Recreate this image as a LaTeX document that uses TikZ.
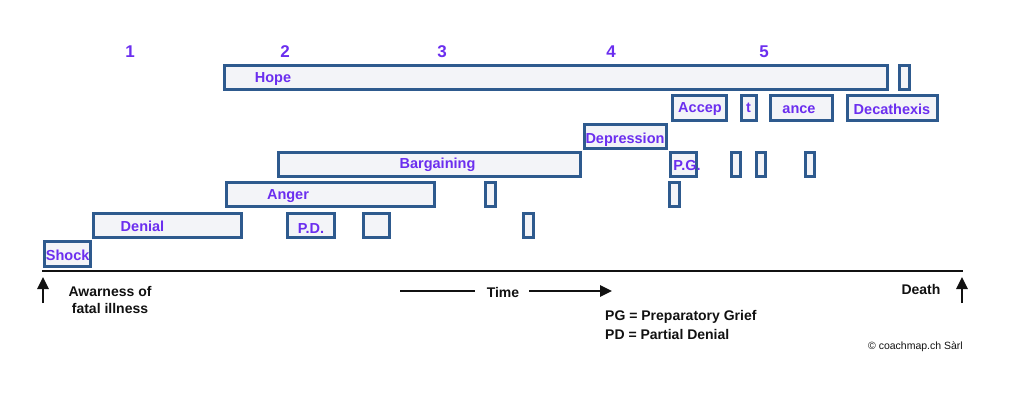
\documentclass[tikz,border=0pt]{standalone}
\usepackage{fontspec}
\setmainfont{Liberation Sans}
\usetikzlibrary{arrows.meta}
\definecolor{boxc}{HTML}{2E5A8E}
\definecolor{fillc}{HTML}{F3F4F8}
\definecolor{purp}{HTML}{6B2EEF}
\definecolor{ink}{HTML}{111111}
\tikzset{
  box/.style={draw=boxc,fill=fillc,line width=3pt,inner sep=0pt},
  lbl/.style={text=purp,font=\fontsize{14.5}{16}\selectfont\bfseries,inner sep=0pt,yshift=-1.5pt},
  num/.style={text=purp,font=\fontsize{17}{19}\selectfont\bfseries,inner sep=0pt},
  blk/.style={text=ink,font=\fontsize{14}{17}\selectfont\bfseries,inner sep=0pt},
  axis/.style={line width=2.6pt,ink},
  arr/.style={line width=2.6pt,ink,-{Triangle[length=12pt,width=11pt]}}
}
\newcommand{\bx}[5]{\node[box,minimum width={(#4-#2-3)*1pt},minimum height={(#5-#3-3)*1pt}] (#1) at ({(#2+#4)/2},{(#3+#5)/2}) {};}
\begin{document}
\begin{tikzpicture}[x=1pt,y=-1pt]
\useasboundingbox (0,0) rectangle (1010,393);
% numbers
\node[num] (n1) at (130,52) {1};
\node[num] (n2) at (285,52) {2};
\node[num] (n3) at (442,52) {3};
\node[num] (n4) at (611,52) {4};
\node[num] (n5) at (764,52) {5};
% boxes
\bx{hope}{223}{64}{889}{91}
\bx{h2}{898}{64}{911}{91}
\bx{accep}{671}{94}{728}{122}
\bx{t}{740}{94}{758}{122}
\bx{ance}{769}{94}{834}{122}
\bx{deca}{846}{94}{939}{122}
\bx{depr}{583}{123}{668}{150}
\bx{barg}{277}{151}{582}{178}
\bx{pg}{669}{151}{698}{178}
\bx{pg1}{730}{151}{742}{178}
\bx{pg2}{755}{151}{767}{178}
\bx{pg3}{804}{151}{816}{178}
\bx{anger}{225}{181}{436}{208}
\bx{a1}{484}{181}{497}{208}
\bx{a2}{668}{181}{681}{208}
\bx{denial}{92}{212}{243}{239}
\bx{pd}{286}{212}{336}{239}
\bx{pd2}{362}{212}{391}{239}
\bx{pd3}{522}{212}{535}{239}
\bx{shock}{43}{240}{92}{268}
% labels
\node[lbl] (lhope) at (273,78) {Hope};
\node[lbl] (lacc) at (700,108) {Accep};
\node[lbl] (lt) at (748.5,106) {t};
\node[lbl] (lance) at (799,108) {ance};
\node[lbl] (ldeca) at (892,108) {Decathexis};
\node[lbl] (ldepr) at (625,138) {Depression};
\node[lbl] (lbarg) at (437.5,163) {Bargaining};
\node[lbl] (lpg) at (687,164) {P.G.};
\node[lbl] (lang) at (288,195) {Anger};
\node[lbl] (lden) at (142.5,225) {Denial};
\node[lbl] (lpd) at (311,227) {P.D.};
\node[lbl] (lsh) at (67.7,254) {Shock};
% axis
\coordinate (ax0) at (42,271);
\coordinate (ax1) at (963,271);
\draw[axis] (ax0) -- (ax1);
\coordinate (la0) at (43,303);
\coordinate (la1) at (43,277);
\draw[arr] (la0) -- (la1);
\coordinate (ra0) at (962,303);
\coordinate (ra1) at (962,277);
\draw[arr] (ra0) -- (ra1);
\node[blk,align=center] (aware) at (110,299.5) {Awarness of\\fatal illness};
\node[blk] (time) at (503,292) {Time};
\coordinate (t0) at (400,291);
\coordinate (t0e) at (475,291);
\coordinate (t1s) at (529,291);
\coordinate (t1) at (612,291);
\draw[axis] (t0) -- (t0e);
\draw[arr] (t1s) -- (t1);
\node[blk] (death) at (921,289) {Death};
\node[blk,anchor=west] (pgd) at (605,317) {PG = Preparatory Grief};
\node[blk,anchor=west] (pdd) at (605,334) {PD = Partial Denial};
\node[text=ink,font=\fontsize{10.5}{12}\selectfont,anchor=east,inner sep=0pt] (copy) at (963,347) {© coachmap.ch Sàrl};
\end{tikzpicture}
\end{document}
